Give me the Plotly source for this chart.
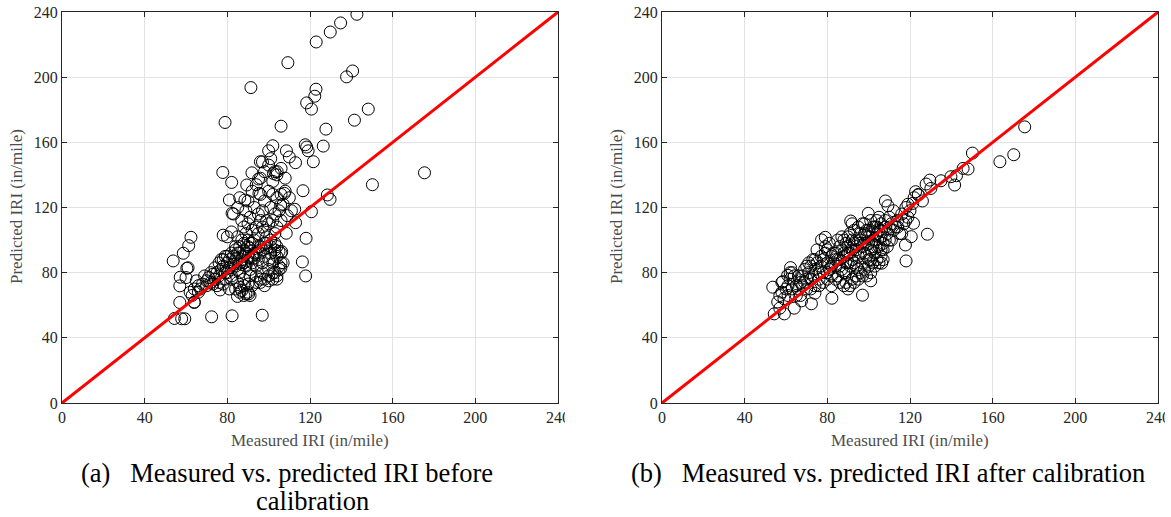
import plotly.graph_objects as go

# ---------------- data: (a) before calibration ----------------
before_measured = [
    # main band
    66, 68, 70, 71, 72, 73, 74, 75, 76, 77, 78, 79, 80, 81, 82, 83, 84, 85, 86, 87,
    88, 89, 90, 91, 92, 93, 94, 95, 96, 97, 98, 99, 100, 101, 102, 103, 104, 105,
    72, 74, 76, 78, 80, 82, 84, 86, 88, 90,
    70, 73, 76, 79, 82, 85, 88, 91, 94, 97, 100, 103, 106,
    75, 78, 81, 84, 86, 88, 90, 92, 94, 96, 98, 100, 102, 104,
    64, 65, 67, 69, 62, 63, 60, 61, 64, 66,
    77, 79, 81, 83, 85, 87, 89, 91, 93, 95, 97, 99, 101, 103, 105,
    80, 82, 84, 86, 88, 90, 92, 94, 96, 98,
    85, 87, 89, 91, 93, 95, 97, 99, 101, 103,
    78, 80, 82, 84, 86, 88, 90, 92,
    86, 88, 90, 89, 91, 87, 100, 102, 104, 105, 103, 104, 106, 107, 98, 96,
    # upper group
    83, 85, 87, 89, 91, 93, 95, 97, 99, 101, 103, 105, 107, 109, 111,
    88, 90, 92, 94, 96, 98, 100, 102, 104, 106,
    86, 90, 92, 94, 96, 98, 100, 102, 104, 106, 108, 110,
    96, 98, 100, 102, 104, 106, 108, 103, 101, 97,
    # scattered points
    142.7, 134.8, 129.8, 123.0, 109.3, 140.6, 137.7, 91.4, 122.9, 122.3,
    118.4, 120.7, 148.2, 141.5, 78.9, 106.0, 127.7, 126.4, 117.7, 118.4,
    119.1, 102.0, 100.0, 108.6, 121.6, 96.0, 113.0, 175.4, 150.2, 77.8,
    82.1, 91.9, 89.4, 95.1, 102.3, 104.1, 110.0, 116.6, 128.4, 129.7,
    120.7, 118.1, 116.3, 117.9, 81.0, 88.5, 95.3, 82.3,
    62.4, 61.3, 58.7, 53.8, 60.4, 57.2, 57.0, 57.0, 54.4, 57.9, 59.4,
    72.4, 82.3, 96.9, 64.0, 76.5, 84.9, 90.3, 105.9, 106.3, 108.5,
    113.0, 112.6, 105.8, 107.6,
]
before_predicted = [
    72, 73, 75, 77, 74, 79, 76, 80, 78, 82, 84, 80, 86, 83, 78, 85, 88, 82, 80, 85,
    90, 84, 87, 82, 86, 89, 84, 88, 92, 86, 90, 95, 88, 92, 86, 94, 90, 84,
    80, 83, 86, 88, 90, 92, 94, 96, 98, 100,
    72, 73, 74, 76, 76, 74, 76, 78, 78, 80, 82, 80, 86,
    72, 73, 70, 70, 68, 66, 68, 72, 74, 76, 76, 78, 76, 78,
    70, 75, 70, 78, 68, 66, 77, 83, 62, 68,
    88, 90, 88, 90, 92, 88, 92, 95, 92, 96, 94, 98, 96, 98, 93,
    80, 82, 84, 86, 86, 90, 90, 92, 96, 98,
    102, 100, 104, 98, 100, 104, 108, 102, 100, 104,
    103, 102, 105, 96, 92, 94, 96, 98,
    71, 72, 73, 67, 66, 69, 75, 80, 76, 82, 92, 96, 92, 86, 72, 74,
    116, 120, 112, 118, 114, 120, 116, 118, 112, 120, 116, 118, 122, 115, 118,
    108, 110, 106, 108, 112, 106, 110, 112, 108, 112,
    126, 124, 130, 134, 128, 124, 130, 128, 126, 128, 130, 126,
    138, 142, 146, 136, 140, 144, 138, 142, 150, 148,
    238.6, 233.3, 227.7, 221.6, 208.9, 203.8, 200.2, 193.6, 192.6, 188.3,
    184.2, 180.4, 180.4, 173.6, 172.2, 169.9, 168.1, 157.7, 158.5, 157.1,
    154.8, 157.9, 154.8, 154.8, 148.1, 148.1, 147.5, 141.3, 134.0, 141.5,
    135.4, 141.3, 133.8, 137.5, 140.9, 142.0, 151.0, 130.3, 127.7, 125.0,
    117.4, 101.1, 86.6, 78.0, 124.6, 124.6, 128.7, 116.4,
    101.7, 96.6, 91.9, 87.2, 82.7, 77.2, 71.9, 61.7, 51.9, 51.7, 51.7,
    52.9, 53.5, 53.9, 61.7, 69.4, 65.4, 67.0, 82.7, 92.9, 104.2,
    110.7, 118.9, 121.5, 128.7,
]

# ---------------- data: (b) after calibration ----------------
after_measured = [
    56, 57, 58, 59, 60, 61, 62, 63, 64, 65, 66, 67, 68, 69, 70, 71, 72, 73, 74, 75,
    76, 77, 78, 79, 80, 81, 82, 83, 84, 85, 86, 87, 88, 89, 90, 91, 92, 93, 94, 95,
    96, 97, 98, 99, 100, 101, 102, 103, 104, 105, 106, 107, 108, 109, 110, 111, 112,
    113, 114, 115, 116, 117, 118, 119,
    66, 68, 70, 72, 74, 76, 78, 80, 82, 84, 86, 88, 90, 92, 94, 96, 98, 100, 102,
    104, 106, 108, 110,
    75, 77, 79, 81, 83, 85, 87, 89, 91, 93, 95, 97, 99, 101, 103, 105,
    76, 78, 80, 82, 84, 86, 88, 90, 92, 94, 96, 98, 100, 102, 104, 106,
    85, 87, 89, 91, 93, 95, 97, 99, 101, 103, 105, 107, 109, 111,
    80, 82, 84, 86, 88, 90, 92, 94, 96, 98, 100, 102, 104, 106,
    73, 71, 69, 67, 65, 63, 61, 62, 58, 70, 72, 74,
    88, 90, 92, 94, 96, 98, 100, 102, 104, 106, 108, 110, 112, 114, 116, 118,
    89, 91, 93, 95, 97, 99, 101, 103, 105, 107,
    122, 124, 126, 120, 119,
    # scattered points
    175.5, 170.2, 163.5, 150.2, 148.1, 145.7, 141.6, 142.5, 139.8, 135.0,
    129.6, 127.8, 130.1, 122.7, 124.0, 121.3, 128.4, 118.1, 120.6, 121.7,
    117.8, 108.1, 109.3, 99.8, 91.3, 79.0, 77.2, 53.6, 54.3, 59.2, 57.0,
    64.0, 62.2, 60.8, 58.4, 72.3, 74.0, 82.2, 97.0, 101.0, 106.3, 67.5,
]
after_predicted = [
    62, 66, 68, 64, 70, 72, 76, 80, 78, 66, 70, 74, 78, 82, 76, 80, 84, 78, 82, 86,
    80, 84, 88, 92, 86, 82, 90, 86, 92, 88, 84, 94, 90, 86, 96, 92, 88, 98, 94, 90,
    100, 96, 92, 102, 98, 94, 104, 100, 96, 106, 102, 98, 108, 104, 100, 110, 106,
    108, 112, 104, 116, 110, 120, 114,
    78, 72, 84, 76, 88, 76, 80, 94, 78, 84, 96, 80, 86, 100, 84, 92, 104, 88, 96,
    108, 94, 100, 108,
    94, 90, 96, 98, 92, 100, 102, 98, 104, 106, 108, 110, 106, 112, 108, 114,
    72, 74, 76, 72, 76, 74, 72, 70, 76, 78, 80, 82, 84, 86, 88, 90,
    78, 82, 80, 84, 86, 82, 86, 90, 88, 92, 96, 94, 96, 100,
    80, 84, 88, 88, 92, 92, 94, 96, 98, 98, 102, 100, 104, 106,
    88, 86, 74, 66, 72, 70, 66, 80, 74, 70, 70, 72,
    100, 102, 110, 100, 104, 110, 106, 108, 112, 110, 112, 114, 118, 108, 104, 112,
    74, 72, 74, 76, 78, 78, 80, 84, 86, 88,
    126, 128, 124, 118, 122,
    169.5, 152.4, 148.1, 153.4, 143.6, 144.0, 133.8, 139.5, 138.9, 136.4,
    136.8, 134.4, 131.7, 129.7, 127.7, 122.5, 103.6, 87.2, 102.1, 110.3,
    97.0, 124.0, 121.1, 116.4, 111.7, 101.7, 100.1, 71.1, 54.7, 54.7, 58.2,
    58.2, 83.1, 78.4, 74.5, 60.9, 67.4, 64.3, 66.2, 75.0, 85.8, 62.7,
]

# line of equality and axis ticks
equality_line = [0, 240]
tick_values = [0, 40, 80, 120, 160, 200, 240]

SERIF = "Liberation Serif, Times New Roman, serif"
W, H = 1171, 517


def px_x(p):
    return p / W


def px_y(p):
    return 1 - p / H


fig = go.Figure()

panels = [
    ("x", "y", before_measured, before_predicted),
    ("x2", "y2", after_measured, after_predicted),
]
for xa, ya, mx, py in panels:
    fig.add_trace(go.Scatter(
        x=mx, y=py, mode="markers", xaxis=xa, yaxis=ya,
        marker=dict(symbol="circle-open", size=12, color="black",
                    line=dict(width=1, color="black")),
        showlegend=False, hoverinfo="skip",
    ))
    fig.add_trace(go.Scatter(
        x=equality_line, y=equality_line, mode="lines", xaxis=xa, yaxis=ya,
        line=dict(color="#ff0000", width=3),
        showlegend=False, hoverinfo="skip", cliponaxis=False,
    ))

axis_common = dict(
    range=[0, 240], tickvals=tick_values, ticks="inside", ticklen=5,
    tickcolor="#262626", showline=True, linecolor="#262626", linewidth=1,
    mirror="ticks", showgrid=True, gridcolor="#e3e3e3", gridwidth=1,
    zeroline=False, tickfont=dict(family=SERIF, size=16, color="#262626"),
    fixedrange=True, automargin=False,
)

y_dom = [px_y(403), px_y(12)]
fig.update_layout(
    template="none",
    width=W, height=H,
    margin=dict(l=0, r=0, t=0, b=0, pad=0),
    paper_bgcolor="white", plot_bgcolor="white",
    xaxis=dict(domain=[px_x(62), px_x(558)], anchor="y", **axis_common),
    yaxis=dict(domain=y_dom, anchor="x", **axis_common),
    xaxis2=dict(domain=[px_x(662), px_x(1158)], anchor="y2", **axis_common),
    yaxis2=dict(domain=y_dom, anchor="x2", **axis_common),
)

title_font = dict(family=SERIF, size=17, color="#4d4d4d")
caption_font = dict(family=SERIF, size=26.5, color="black")
annotations = []
for left, right in [(62, 558), (662, 1158)]:
    annotations.append(dict(
        text="Measured IRI (in/mile)", x=px_x((left + right) / 2), y=px_y(440),
        xref="paper", yref="paper", showarrow=False, font=title_font,
        xanchor="center", yanchor="middle",
    ))
    annotations.append(dict(
        text="Predicted IRI (in/mile)", x=px_x(left - 45), y=px_y(207),
        xref="paper", yref="paper", showarrow=False, font=title_font,
        textangle=-90, xanchor="center", yanchor="middle",
    ))

annotations += [
    dict(text="(a)   Measured vs. predicted IRI before", x=px_x(287), y=px_y(473),
         xref="paper", yref="paper", showarrow=False, font=caption_font,
         xanchor="center", yanchor="middle"),
    dict(text="calibration", x=px_x(312), y=px_y(501),
         xref="paper", yref="paper", showarrow=False, font=caption_font,
         xanchor="center", yanchor="middle"),
    dict(text="(b)   Measured vs. predicted IRI after calibration", x=px_x(888),
         y=px_y(473), xref="paper", yref="paper", showarrow=False,
         font=caption_font, xanchor="center", yanchor="middle"),
]
fig.update_layout(annotations=annotations)

# the panels are cut off just after the last x tick label
fig.update_layout(shapes=[
    dict(type="rect", xref="paper", yref="paper", layer="above",
         x0=px_x(565), x1=px_x(600), y0=px_y(432), y1=px_y(408),
         fillcolor="white", line=dict(width=0)),
    dict(type="rect", xref="paper", yref="paper", layer="above",
         x0=px_x(1165), x1=1, y0=px_y(432), y1=px_y(408),
         fillcolor="white", line=dict(width=0)),
])

fig.write_html("out.html", config={"displayModeBar": False})
